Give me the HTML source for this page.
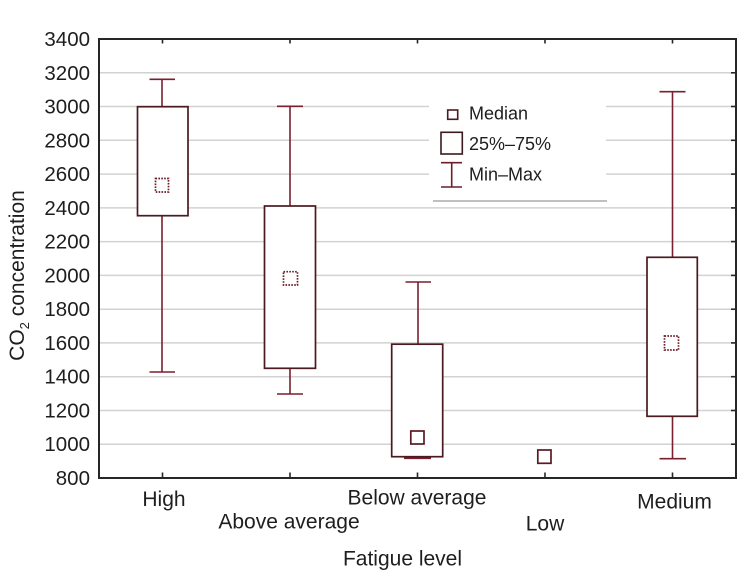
<!DOCTYPE html>
<html><head><meta charset="utf-8"><style>
html,body{margin:0;padding:0;background:#fff;}
svg{display:block;}
text{font-family:"Liberation Sans",Arial,sans-serif;fill:#1e1e1e;}
</style></head><body>
<svg width="753" height="579" viewBox="0 0 753 579" xmlns="http://www.w3.org/2000/svg">
<rect width="753" height="579" fill="#fff"/>
<!-- gridlines -->
<g stroke="#d2d2d2" stroke-width="1.5">
<line x1="99" y1="72.8" x2="736" y2="72.8"/>
<line x1="99" y1="106.5" x2="736" y2="106.5"/>
<line x1="99" y1="140.3" x2="736" y2="140.3"/>
<line x1="99" y1="174.1" x2="736" y2="174.1"/>
<line x1="99" y1="207.9" x2="736" y2="207.9"/>
<line x1="99" y1="241.6" x2="736" y2="241.6"/>
<line x1="99" y1="275.4" x2="736" y2="275.4"/>
<line x1="99" y1="309.2" x2="736" y2="309.2"/>
<line x1="99" y1="342.9" x2="736" y2="342.9"/>
<line x1="99" y1="376.7" x2="736" y2="376.7"/>
<line x1="99" y1="410.5" x2="736" y2="410.5"/>
<line x1="99" y1="444.2" x2="736" y2="444.2"/>
</g>
<!-- legend background -->
<rect x="429" y="88" width="177" height="113" fill="#fff"/>
<line x1="433" y1="201" x2="607" y2="201" stroke="#9a9a9a" stroke-width="1.2"/>
<rect x="447.7" y="110" width="10" height="9.3" fill="none" stroke="#4e1a20" stroke-width="1.6"/>
<rect x="441" y="132.3" width="21.3" height="21.7" fill="none" stroke="#3a1a1e" stroke-width="1.6"/>
<g stroke="#6e1e2a" stroke-width="1.6">
<line x1="451.7" y1="162.7" x2="451.7" y2="187"/>
<line x1="441" y1="162.7" x2="462" y2="162.7"/>
<line x1="441" y1="187" x2="462" y2="187"/>
</g>
<text x="469" y="119.5" font-size="18">Median</text>
<text x="469" y="150" font-size="18">25%–75%</text>
<text x="469" y="180.7" font-size="18">Min–Max</text>

<!-- whiskers -->
<g stroke="#7a1f2d" stroke-width="1.6" fill="none">
<!-- High -->
<line x1="162" y1="79.3" x2="162" y2="372"/>
<line x1="149.5" y1="79.3" x2="175" y2="79.3"/>
<line x1="149.5" y1="372" x2="175" y2="372"/>
<!-- Above average -->
<line x1="290" y1="106.3" x2="290" y2="394"/>
<line x1="277" y1="106.3" x2="303" y2="106.3"/>
<line x1="277" y1="394" x2="303" y2="394"/>
<!-- Below average -->
<line x1="418" y1="282" x2="418" y2="457"/>
<line x1="405.5" y1="282" x2="431" y2="282"/>
<line x1="404" y1="458" x2="431" y2="458" stroke-width="2.2"/>
<!-- Medium -->
<line x1="672.5" y1="91.7" x2="672.5" y2="458.7"/>
<line x1="659.5" y1="91.7" x2="685.5" y2="91.7"/>
<line x1="659.5" y1="458.7" x2="686" y2="458.7"/>
</g>
<!-- boxes -->
<g stroke="#4a1a20" stroke-width="1.7" fill="#fff">
<rect x="137.5" y="106.7" width="50.5" height="109"/>
<rect x="264.5" y="206" width="51" height="162.3"/>
<rect x="391.7" y="344.2" width="51" height="112.5"/>
<rect x="647" y="257.3" width="50.3" height="159"/>
</g>
<!-- medians -->
<g fill="none" stroke-width="1.7">
<rect x="155.5" y="178.5" width="13" height="13.5" stroke="#6a1a26" stroke-dasharray="1.6,1.3"/>
<rect x="283.5" y="271.7" width="14" height="13.3" stroke="#6a1a26" stroke-dasharray="1.6,1.3"/>
<rect x="410.8" y="431" width="13.2" height="13" stroke="#5a1a22"/>
<rect x="537.8" y="450" width="13.2" height="13.3" stroke="#5a1a22"/>
<rect x="664.5" y="336" width="14" height="14" stroke="#6a1a26" stroke-dasharray="1.6,1.3"/>
</g>
<line x1="540" y1="461" x2="551" y2="461" stroke="#fff" stroke-width="1" stroke-dasharray="1,1.2"/>

<!-- frame -->
<rect x="99" y="39" width="637" height="439" fill="none" stroke="#262626" stroke-width="2"/>
<g stroke="#262626" stroke-width="1.6">
<line x1="162.5" y1="39" x2="162.5" y2="43.5"/>
<line x1="290" y1="39" x2="290" y2="43.5"/>
<line x1="417.5" y1="39" x2="417.5" y2="43.5"/>
<line x1="545" y1="39" x2="545" y2="43.5"/>
<line x1="672.5" y1="39" x2="672.5" y2="43.5"/>
<line x1="162.5" y1="472.5" x2="162.5" y2="478"/>
<line x1="290" y1="472.5" x2="290" y2="478"/>
<line x1="417.5" y1="472.5" x2="417.5" y2="478"/>
<line x1="545" y1="472.5" x2="545" y2="478"/>
<line x1="672.5" y1="472.5" x2="672.5" y2="478"/>
<line x1="731" y1="72.8" x2="736" y2="72.8"/>
<line x1="731" y1="106.5" x2="736" y2="106.5"/>
<line x1="731" y1="140.3" x2="736" y2="140.3"/>
<line x1="731" y1="174.1" x2="736" y2="174.1"/>
<line x1="731" y1="207.9" x2="736" y2="207.9"/>
<line x1="731" y1="241.6" x2="736" y2="241.6"/>
<line x1="731" y1="275.4" x2="736" y2="275.4"/>
<line x1="731" y1="309.2" x2="736" y2="309.2"/>
<line x1="731" y1="342.9" x2="736" y2="342.9"/>
<line x1="731" y1="376.7" x2="736" y2="376.7"/>
<line x1="731" y1="410.5" x2="736" y2="410.5"/>
<line x1="731" y1="444.2" x2="736" y2="444.2"/>
</g>

<!-- y tick labels -->
<g font-size="20.5" text-anchor="end">
<text x="90" y="46">3400</text>
<text x="90" y="79.8">3200</text>
<text x="90" y="113.5">3000</text>
<text x="90" y="147.3">2800</text>
<text x="90" y="181.1">2600</text>
<text x="90" y="214.9">2400</text>
<text x="90" y="248.6">2200</text>
<text x="90" y="282.4">2000</text>
<text x="90" y="316.2">1800</text>
<text x="90" y="349.9">1600</text>
<text x="90" y="383.7">1400</text>
<text x="90" y="417.5">1200</text>
<text x="90" y="451.2">1000</text>
<text x="90" y="485">800</text>
</g>

<!-- x labels -->
<g font-size="21" text-anchor="middle">
<text x="164" y="506">High</text>
<text x="417" y="504.5">Below average</text>
<text x="674.5" y="508.3">Medium</text>
<text x="289" y="528.7">Above average</text>
<text x="545" y="530.5">Low</text>
<text x="402.5" y="565.7">Fatigue level</text>
</g>

<!-- y title -->
<text transform="translate(24,275.5) rotate(-90)" font-size="21" text-anchor="middle">CO<tspan font-size="13" dy="5">2</tspan><tspan dy="-5"> concentration</tspan></text>
</svg>
</body></html>
